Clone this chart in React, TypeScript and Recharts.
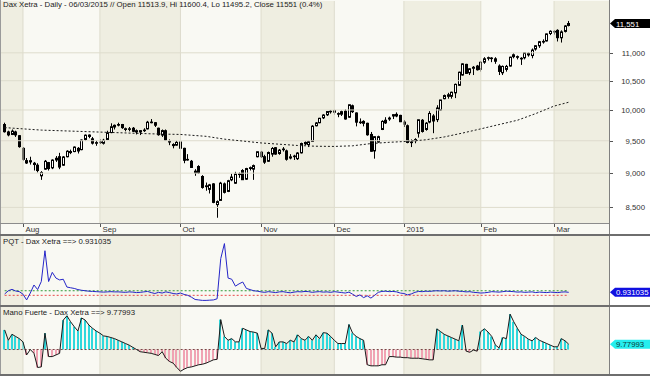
import { Bar, ComposedChart, Line, ReferenceArea, ReferenceLine, XAxis, YAxis } from "recharts";

// Dax Xetra daily, 25/07/2014 .. 06/03/2015 (one entry per session)
const opens = [
  9760, 9640, 9600, 9640, 9580, 9380, 9190, 9170, 9150, 9120, 8960, 9060, 9160, 9080, 9200, 9250, 9120, 9250, 9330, 9330,
  9380, 9360, 9520, 9590, 9530, 9460, 9480, 9460, 9520, 9630, 9720, 9760, 9760, 9680, 9690, 9700, 9640, 9640, 9670, 9690,
  9800, 9790, 9700, 9590, 9660, 9480, 9440, 9430, 9480, 9380, 9200, 9180, 9030, 9100, 8950, 8800, 8760, 8840, 8540, 8600,
  8840, 8730, 8900, 8850, 8980, 9040, 8910, 9070, 9060, 9250, 9320, 9250, 9180, 9290, 9390, 9300, 9360, 9340, 9230, 9260,
  9220, 9310, 9450, 9440, 9490, 9740, 9790, 9870, 9920, 9970, 9990, 9940, 9930, 9980, 9880, 10070, 9950, 9800, 9780, 9780,
  9600, 9340, 9480, 9680, 9830, 9850, 9900, 9900, 9910, 9800, 9740, 9480, 9500, 9620, 9830, 9680, 9800, 9900, 9840, 10000,
  10190, 10230, 10230, 10290, 10420, 10600, 10790, 10640, 10720, 10760, 10700, 10830, 10900, 10900, 10890, 10760, 10640, 10700, 10760, 10930,
  10930, 10900, 10910, 10990, 10950, 11070, 11130, 11210, 11220, 11360, 11400, 11420, 11280, 11400, 11513.9,
];
const highs = [
  9790, 9660, 9680, 9660, 9590, 9400, 9230, 9250, 9170, 9150, 9030, 9200, 9170, 9210, 9260, 9310, 9260, 9350, 9360, 9410,
  9400, 9520, 9600, 9600, 9560, 9500, 9520, 9530, 9660, 9780, 9760, 9790, 9770, 9710, 9720, 9720, 9680, 9670, 9700, 9820,
  9850, 9800, 9710, 9680, 9680, 9520, 9460, 9500, 9490, 9390, 9290, 9200, 9060, 9120, 8970, 8860, 8840, 8850, 8600, 8870,
  8860, 8900, 8990, 9020, 9010, 9060, 9080, 9100, 9130, 9330, 9340, 9280, 9330, 9400, 9400, 9370, 9400, 9360, 9290, 9280,
  9320, 9470, 9490, 9500, 9750, 9800, 9870, 9930, 9980, 10000, 10010, 9960, 9990, 10010, 10090, 10090, 9960, 9860, 9830, 9790,
  9640, 9570, 9580, 9830, 9880, 9890, 9930, 9960, 9920, 9830, 9760, 9520, 9540, 9840, 9850, 9800, 9980, 9930, 10080, 10170,
  10260, 10290, 10310, 10450, 10660, 10810, 10800, 10720, 10760, 10780, 10850, 10920, 10930, 10920, 10920, 10790, 10770, 10780, 10930, 10990,
  10950, 10920, 11010, 11010, 11080, 11140, 11220, 11250, 11360, 11420, 11420, 11440, 11420, 11520, 11600.4,
];
const lows = [
  9630, 9570, 9590, 9560, 9390, 9190, 9140, 9130, 9040, 9010, 8900, 9050, 9040, 9060, 9170, 9060, 9110, 9240, 9290, 9320,
  9300, 9350, 9500, 9540, 9440, 9420, 9450, 9440, 9510, 9620, 9680, 9730, 9690, 9650, 9650, 9640, 9600, 9590, 9640, 9680,
  9780, 9720, 9580, 9560, 9500, 9430, 9380, 9420, 9360, 9150, 9190, 9080, 8960, 8990, 8770, 8740, 8700, 8560, 8355, 8600,
  8700, 8720, 8880, 8840, 8930, 8900, 8900, 9040, 8900, 9240, 9230, 9140, 9170, 9250, 9280, 9280, 9330, 9190, 9210, 9200,
  9200, 9300, 9430, 9400, 9480, 9730, 9780, 9850, 9900, 9940, 9920, 9880, 9900, 9840, 9870, 9950, 9730, 9770, 9730, 9580,
  9330, 9220, 9470, 9670, 9770, 9820, 9850, 9880, 9800, 9720, 9460, 9400, 9460, 9550, 9630, 9660, 9780, 9620, 9800, 9990,
  10180, 10190, 10190, 10200, 10410, 10590, 10620, 10600, 10600, 10680, 10660, 10800, 10860, 10830, 10800, 10600, 10600, 10660, 10750, 10900,
  10880, 10780, 10880, 10930, 10900, 11040, 11090, 11170, 11210, 11330, 11340, 11210, 11190, 11380, 11495.2,
];
const closes = [
  9644, 9593, 9653, 9593, 9407, 9210, 9154, 9189, 9130, 9039, 9010, 9180, 9069, 9198, 9226, 9092, 9246, 9335, 9314, 9400,
  9339, 9510, 9588, 9569, 9462, 9470, 9480, 9507, 9627, 9724, 9747, 9758, 9710, 9692, 9691, 9651, 9660, 9661, 9661, 9798,
  9800, 9749, 9596, 9662, 9510, 9490, 9423, 9474, 9382, 9195, 9209, 9086, 9005, 9005, 8788, 8812, 8826, 8572, 8583, 8851,
  8717, 8887, 8941, 8987, 8988, 8902, 9069, 9083, 9114, 9327, 9251, 9167, 9315, 9378, 9291, 9352, 9369, 9211, 9248, 9253,
  9307, 9456, 9473, 9484, 9733, 9786, 9862, 9916, 9974, 9980, 9963, 9935, 9972, 9851, 10087, 9972, 9799, 9800, 9811, 9595,
  9335, 9564, 9564, 9811, 9787, 9866, 9922, 9927, 9806, 9765, 9473, 9470, 9518, 9838, 9648, 9782, 9942, 9818, 10033, 10168,
  10243, 10257, 10300, 10436, 10650, 10799, 10629, 10711, 10738, 10694, 10828, 10891, 10911, 10905, 10847, 10664, 10753, 10753, 10920, 10964,
  10924, 10896, 11002, 10962, 11051, 11131, 11206, 11211, 11352, 11402, 11394, 11281, 11390, 11504, 11551,
];

// dotted moving average, read at a few sessions
const maIdx = [0, 10, 20, 30, 40, 48, 55, 60, 65, 70, 75, 80, 85, 90, 95, 100, 105, 110, 115, 120, 125, 130, 135, 140, 145, 150, 154];
const maVal = [9710, 9670, 9650, 9630, 9610, 9600, 9570, 9525, 9495, 9465, 9445, 9425, 9413, 9410, 9420, 9455, 9475, 9490, 9515, 9560, 9622, 9690, 9760, 9830, 9940, 10065, 10130];

const pqt = [
  0.86, 1.0, 1.06, 0.99, 0.96, 0.85, 0.6, 0.9, 1.25, 1.05, 1.4, 2.74, 1.4, 1.8, 1.55, 1.47, 1.5, 1.16, 1.13, 1.1,
  1.05, 1.02, 1.0, 0.98, 0.97, 0.96, 0.95, 0.94, 0.95, 0.96, 0.95, 0.95, 0.94, 0.93, 0.95, 0.94, 0.92, 0.93, 0.95, 0.97,
  0.92, 0.88, 0.93, 0.9, 0.95, 0.92, 0.88, 0.86, 0.9, 0.84, 0.8, 0.72, 0.62, 0.6, 0.58, 0.58, 0.59, 0.6, 0.65, 2.4,
  3.05, 1.55, 1.5, 1.2, 1.3, 1.38, 1.1, 1.05, 1.0, 0.98, 0.95, 0.93, 0.96, 0.94, 0.92, 0.95, 0.96, 0.93, 0.91, 0.94,
  0.96, 0.95, 0.97, 0.96, 0.93, 0.95, 0.96, 0.94, 0.95, 0.93, 0.96, 0.94, 0.92, 0.9, 0.94, 0.85, 0.75, 0.82, 0.7, 0.78,
  0.68, 0.8, 0.93, 0.97, 0.98, 0.96, 0.97, 0.95, 0.9, 0.88, 0.82, 0.86, 0.93, 0.97, 0.96, 0.98, 0.97, 0.99, 1.0, 0.99,
  1.0, 0.98, 0.99, 1.0, 0.98, 0.97, 0.95, 0.96, 0.93, 0.92, 0.9, 0.91, 0.93, 0.96, 0.95, 0.94, 0.96, 0.98, 0.97, 0.96,
  0.94, 0.95, 0.93, 0.94, 0.95, 0.92, 0.94, 0.93, 0.92, 0.94, 0.93, 0.92, 0.94, 0.95, 0.931035,
];
const pqtUpper = 1.0;
const pqtLower = 0.8;

const manoFuerte = [
  36, 17, 28, 24, 20, 14, -10, 0, -7, -33, -32, 30, -13, -13, -10, -7, 54, 62, 51, 42,
  34, 58, 54, 45, 39, 34, 30, 25, 24, 22, 20, 17, 14, 11, 8, 4, 0, -4, -5, -6,
  -7, -9, -11, -4, -16, -22, -25, -33, -40, -36, -33, -32, -30, -28, -27, -25, -22, -19, -18, 55,
  24, 17, 20, 14, 14, 39, 36, 33, 32, 30, 2, 2, 36, 30, 5, 14, 14, 11, 17, 14,
  27, 20, 17, 24, 17, 27, 20, 31, 30, 24, 17, 11, 11, 11, 46, 30, 24, 20, 17, -28,
  -30, -30, -30, -28, -28, -13, -13, -14, -14, -15, -15, -16, -16, -16, -17, -18, -19, -19, 38, 33,
  28, 25, 22, 19, 16, 45, -3, -5, -1, -3, 33, 38, 32, 24, 8, 3, 22, 20, 65, 51,
  39, 28, 24, 19, 16, 22, 17, 14, 11, 8, 5, 5, 20, 16, 9.77993,
];

const monthTicks = [5, 26, 48, 70, 90, 109, 130, 150];
const monthLabels = ["Aug", "Sep", "Oct", "Nov", "Dec", "2015", "Feb", "Mar"];
const priceTicks = [8500, 9000, 9500, 10000, 10500, 11000];

const last = closes.length - 1;
const rows = closes.map((c, i) => {
  const k = maIdx.indexOf(i);
  return { i, o: opens[i], h: highs[i], l: lows[i], c, ma: k >= 0 ? maVal[k] : null, pqt: pqt[i], mf: manoFuerte[i] };
});

const X_DOMAIN = [-1, 165];
const BAND_DARK = "#efeee1";
const GRID = "#dedccd";
const FONT = '"Liberation Sans", Arial, sans-serif';

// darker shading on every other month
const bandEdges = [X_DOMAIN[0], ...monthTicks, X_DOMAIN[1]];
const darkBands = bandEdges.slice(0, -1).map((a, k) => [a, bandEdges[k + 1]]).filter((_, k) => k % 2 === 0);

function Candle(props: any) {
  const { x, y, width, height, payload } = props;
  if (x == null || !payload) return null;
  const cx = Math.round(x + width / 2);
  const lh = Math.log(payload.h);
  const ll = Math.log(payload.l);
  const at = (v: number) => y + (height * (lh - Math.log(v))) / (lh - ll || 1);
  const yo = at(payload.o);
  const yc = at(payload.c);
  const top = Math.min(yo, yc);
  const bot = Math.max(yo, yc);
  const up = payload.c >= payload.o;
  return (
    <g>
      <line x1={cx + 0.5} x2={cx + 0.5} y1={y} y2={y + height} stroke="#000" strokeWidth={1} />
      <rect x={cx - 0.5} y={top} width={2} height={Math.max(bot - top, 0.6)} fill={up ? "#fff" : "#000"} stroke="#000" strokeWidth={1} />
    </g>
  );
}

function Stripe(props: any) {
  const { x, y, width, height, payload } = props;
  if (x == null || !payload) return null;
  const cx = Math.round(x + width / 2);
  const top = Math.min(y, y + height);
  return <rect x={cx - 1} y={top} width={2} height={Math.abs(height)} fill={payload.mf >= 0 ? "#2fd8dc" : "#f0a3b3"} />;
}

function MonthTick(props: any) {
  const { x, index } = props;
  const px = Math.round(x) + 0.5;
  return (
    <g>
      <line x1={px} x2={px} y1={224} y2={227} stroke="#555" />
      <text x={px + 2} y={232} fontSize={7.8} fontFamily={FONT} fill="#333">
        {monthLabels[index]}
      </text>
    </g>
  );
}

function PriceTick(props: any) {
  const { y, payload } = props;
  const py = Math.round(y) + 0.5;
  return (
    <g>
      <line x1={610} x2={613} y1={py} y2={py} stroke="#555" />
      <text x={645} y={y + 3} textAnchor="end" fontSize={7.8} fontFamily={FONT} fill="#333">
        {Number(payload.value).toLocaleString("en-US")}
      </text>
    </g>
  );
}

function Tag(props: any) {
  const { viewBox, text, fill, color } = props;
  if (!viewBox) return null;
  const x0 = 610;
  const y = viewBox.y;
  const h = 4.5;
  return (
    <g>
      <polygon points={`${x0},${y} ${x0 + 5},${y - h} 650,${y - h} 650,${y + h} ${x0 + 5},${y + h}`} fill={fill} />
      <text x={616} y={y + 3} fontSize={7.8} fontFamily={FONT} fill={color}>
        {text}
      </text>
    </g>
  );
}

function bands() {
  return [
    ...darkBands.map(([a, b], k) => (
      <ReferenceArea key={`b${k}`} x1={a} x2={b} fill={BAND_DARK} fillOpacity={1} stroke="none" ifOverflow="hidden" />
    )),
    ...monthTicks.map((t) => <ReferenceLine key={`m${t}`} x={t} stroke={GRID} strokeWidth={1} />),
  ];
}

const lineStyle = (top: number, left: number, width: number, height: number, bg: string) => ({
  position: "absolute" as const,
  top,
  left,
  width,
  height,
  background: bg,
});

export default function App() {
  return (
    <div
      style={{
        position: "absolute",
        left: 0,
        top: 0,
        width: 650,
        height: 376,
        background: "#f9f9f3",
        overflow: "hidden",
        fontFamily: FONT,
      }}
    >
      <div style={lineStyle(0, 609, 41, 376, "#ffffff")} />

      <div style={{ position: "absolute", left: 0, top: 0 }}>
        <ComposedChart width={650} height={235} data={rows} margin={{ top: 1, right: 0, left: 1, bottom: 0 }}>
          <XAxis
            type="number"
            dataKey="i"
            domain={X_DOMAIN}
            allowDataOverflow
            ticks={monthTicks}
            interval={0}
            height={12}
            axisLine={false}
            tickLine={false}
            tick={<MonthTick />}
          />
          <YAxis
            orientation="right"
            scale="log"
            domain={[8282, 11993]}
            allowDataOverflow
            ticks={priceTicks}
            interval={0}
            width={41}
            axisLine={false}
            tickLine={false}
            tick={<PriceTick />}
          />
          {bands()}
          {priceTicks.map((t) => (
            <ReferenceLine key={`p${t}`} y={t} stroke={GRID} strokeWidth={1} />
          ))}
          <Line
            dataKey="ma"
            type="linear"
            stroke="#1a1a1a"
            strokeWidth={1}
            strokeDasharray="2 2"
            dot={false}
            connectNulls
            isAnimationActive={false}
          />
          <Bar dataKey={(d: any) => [d.l, d.h]} barSize={3} shape={<Candle />} isAnimationActive={false} />
          <ReferenceLine
            y={closes[last]}
            stroke="none"
            label={<Tag text={closes[last].toLocaleString("en-US")} fill="#000" color="#fff" />}
          />
        </ComposedChart>
      </div>

      <div style={{ position: "absolute", left: 0, top: 235 }}>
        <ComposedChart width={650} height={71} data={rows} margin={{ top: 1, right: 0, left: 1, bottom: 1 }}>
          <XAxis type="number" dataKey="i" domain={X_DOMAIN} allowDataOverflow hide />
          <YAxis orientation="right" domain={[0.38, 3.38]} allowDataOverflow width={41} axisLine={false} tickLine={false} tick={false} />
          {bands()}
          <ReferenceLine segment={[{ x: 0, y: pqtUpper }, { x: last, y: pqtUpper }]} stroke="#2f9a3a" strokeDasharray="2 2" />
          <ReferenceLine segment={[{ x: 0, y: pqtLower }, { x: last, y: pqtLower }]} stroke="#e84a4a" strokeDasharray="2 2" />
          <Line dataKey="pqt" type="linear" stroke="#2525c8" strokeWidth={1} dot={false} isAnimationActive={false} />
          <ReferenceLine y={pqt[last]} stroke="none" label={<Tag text={String(pqt[last])} fill="#1010e0" color="#fff" />} />
        </ComposedChart>
      </div>

      <div style={{ position: "absolute", left: 0, top: 306 }}>
        <ComposedChart width={650} height={70} data={rows} margin={{ top: 0, right: 0, left: 1, bottom: 2 }}>
          <XAxis type="number" dataKey="i" domain={X_DOMAIN} allowDataOverflow hide />
          <YAxis orientation="right" domain={[-45, 80]} allowDataOverflow width={41} axisLine={false} tickLine={false} tick={false} />
          {bands()}
          <Bar dataKey="mf" barSize={1} shape={<Stripe />} isAnimationActive={false} />
          <ReferenceLine segment={[{ x: 0, y: 0 }, { x: last, y: 0 }]} stroke="#7a4646" strokeDasharray="2 2" />
          <Line dataKey="mf" type="linear" stroke="#1a1a1a" strokeWidth={1} dot={false} isAnimationActive={false} />
          <ReferenceLine y={manoFuerte[last]} stroke="none" label={<Tag text={String(manoFuerte[last])} fill="#25eeee" color="#0a3a3a" />} />
        </ComposedChart>
      </div>

      {/* frame lines */}
      <div style={lineStyle(0, 0, 1, 376, "#9a9a9a")} />
      <div style={lineStyle(0, 609, 1, 376, "#808080")} />
      <div style={lineStyle(223, 0, 609, 1, "#8c8c8c")} />
      <div style={lineStyle(234, 0, 650, 2, "#6e6e6e")} />
      <div style={lineStyle(305, 0, 650, 2, "#6e6e6e")} />
      <div style={lineStyle(374, 0, 650, 2, "#6e6e6e")} />

      <div style={{ position: "absolute", left: 3, top: 0, fontSize: 7.8, color: "#222", whiteSpace: "nowrap", lineHeight: "10px" }}>
        {`Dax Xetra - Daily - 06/03/2015 // Open ${opens[last]}, Hi ${highs[last]}, Lo ${lows[last]}, Close ${closes[last]} (0.4%)`}
      </div>
      <div style={{ position: "absolute", left: 3, top: 237, fontSize: 7.8, color: "#222", whiteSpace: "nowrap", lineHeight: "10px" }}>
        {`PQT - Dax Xetra ==> ${pqt[last]}`}
      </div>
      <div style={{ position: "absolute", left: 3, top: 308, fontSize: 7.8, color: "#222", whiteSpace: "nowrap", lineHeight: "10px" }}>
        {`Mano Fuerte - Dax Xetra ==> ${manoFuerte[last]}`}
      </div>
    </div>
  );
}
